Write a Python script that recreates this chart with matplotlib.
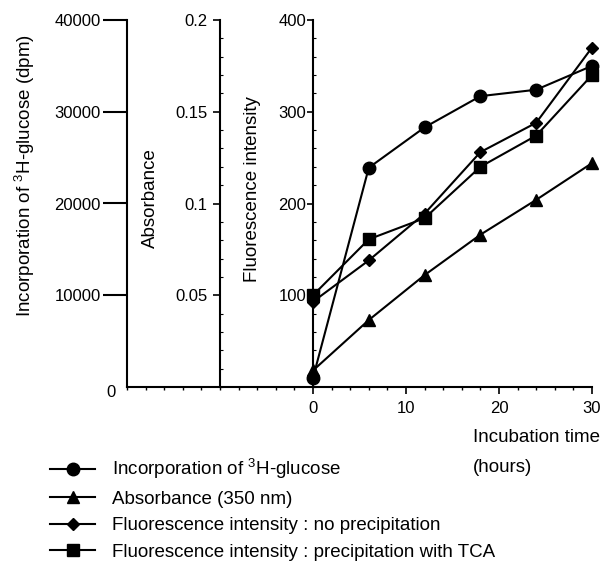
import matplotlib
matplotlib.use('Agg')
import matplotlib.pyplot as plt
from matplotlib.lines import Line2D
from matplotlib.ticker import MultipleLocator, FixedLocator

plt.rcParams['font.family'] = ['Liberation Sans', 'DejaVu Sans']
plt.rcParams['mathtext.default'] = 'regular'

hours = [0, 6, 12, 18, 24, 30]
glucose_dpm = [1000, 23900, 28300, 31700, 32400, 35000]
absorbance = [0.009, 0.0365, 0.061, 0.083, 0.102, 0.122]
fluor_noprecip = [93, 138, 189, 256, 288, 370]
fluor_tca = [100, 161, 184, 240, 274, 340]

labels = ["Incorporation of $^3$H-glucose", "Absorbance (350 nm)",
          "Fluorescence intensity : no precipitation",
          "Fluorescence intensity : precipitation with TCA"]

W, H = 604, 563
fig = plt.figure(figsize=(W / 100, H / 100), dpi=100)
left, right, top, bottom = 127, 592, 20, 387
ax = fig.add_axes([left / W, 1 - bottom / H, (right - left) / W, (bottom - top) / H])

lw = 1.5
# main axis: fluorescence, drawn at x = 0
ax.set_xlim(-20, 30)
ax.set_ylim(0, 400)
ax.spines['top'].set_visible(False)
ax.spines['right'].set_visible(False)
ax.spines['left'].set_position(('data', 0))
ax.spines['left'].set_linewidth(lw)
ax.spines['bottom'].set_linewidth(lw)
ax.set_xticks([0, 10, 20, 30])
ax.xaxis.set_minor_locator(MultipleLocator(2))
ax.set_yticks([100, 200, 300, 400])
ax.yaxis.set_minor_locator(MultipleLocator(20))
ax.tick_params(axis='x', which='major', direction='out', length=5, width=1.2, pad=5, labelsize=12)
ax.tick_params(axis='x', which='minor', direction='out', length=2.5, width=1)
ax.tick_params(axis='y', which='major', direction='out', length=4, width=1.2, pad=1, labelsize=12)
ax.tick_params(axis='y', which='minor', direction='in', length=2, width=0.8)

# absorbance axis at x = -10
ax2 = ax.twinx()
ax2.set_ylim(0, 0.2)
for s in ['top', 'bottom', 'right']:
    ax2.spines[s].set_visible(False)
ax2.spines['left'].set_visible(True)
ax2.spines['left'].set_position(('data', -10))
ax2.spines['left'].set_linewidth(lw)
ax2.yaxis.set_ticks_position('left')
ax2.yaxis.set_major_locator(FixedLocator([0.05, 0.1, 0.15, 0.2]))
ax2.set_yticklabels(['0.05', '0.1', '0.15', '0.2'])
ax2.yaxis.set_minor_locator(MultipleLocator(0.01))
ax2.tick_params(axis='y', which='major', direction='out', length=5, width=1.2, pad=4, labelsize=12)
ax2.tick_params(axis='y', which='minor', direction='in', length=2, width=0.8)

# dpm axis at x = -20
ax3 = ax.twinx()
ax3.set_ylim(0, 40000)
for s in ['top', 'bottom', 'right']:
    ax3.spines[s].set_visible(False)
ax3.spines['left'].set_visible(True)
ax3.spines['left'].set_position(('axes', 0))
ax3.spines['left'].set_linewidth(lw)
ax3.yaxis.set_ticks_position('left')
ax3.set_yticks([10000, 20000, 30000, 40000])
ax3.set_yticklabels(['10000', '20000', '30000', '40000'])
ax3.tick_params(axis='y', which='major', direction='out', length=17, width=1.5, pad=2, labelsize=12)
ax3.annotate('0', xy=(0, 0), xycoords='axes fraction', xytext=(-8, -4),
             textcoords='offset points', ha='right', va='center', fontsize=12)

ms = 9
ax3.plot(hours, glucose_dpm, color='black', lw=lw, marker='o', ms=ms, clip_on=False)
ax2.plot(hours, absorbance, color='black', lw=lw, marker='^', ms=ms, clip_on=False)
ax.plot(hours, fluor_noprecip, color='black', lw=lw, marker='D', ms=6.5, clip_on=False)
ax.plot(hours, fluor_tca, color='black', lw=lw, marker='s', ms=8, clip_on=False)

fs = 13.5
fig.text(25 / W, 1 - 176 / H, "Incorporation of $^3$H-glucose (dpm)", rotation=90,
         ha='center', va='center', fontsize=fs)
fig.text(150 / W, 1 - 198 / H, "Absorbance", rotation=90, ha='center', va='center', fontsize=fs)
fig.text(253 / W, 1 - 189 / H, "Fluorescence intensity", rotation=90, ha='center', va='center', fontsize=fs)
fig.text(473 / W, 1 - 437 / H, "Incubation time", ha='left', va='center', fontsize=fs)
fig.text(473 / W, 1 - 467 / H, "(hours)", ha='left', va='center', fontsize=fs)

handles = [Line2D([], [], color='black', lw=lw, marker=m, ms=s)
           for m, s in [('o', ms), ('^', ms), ('D', 6.5), ('s', 8)]]
fig.legend(handles, labels, loc='upper left', bbox_to_anchor=(50 / W, 1 - 457 / H),
           frameon=False, fontsize=fs, handlelength=2.4, handletextpad=0.9,
           labelspacing=0.5, borderpad=0, borderaxespad=0)

fig.savefig('out.png', dpi=100)
